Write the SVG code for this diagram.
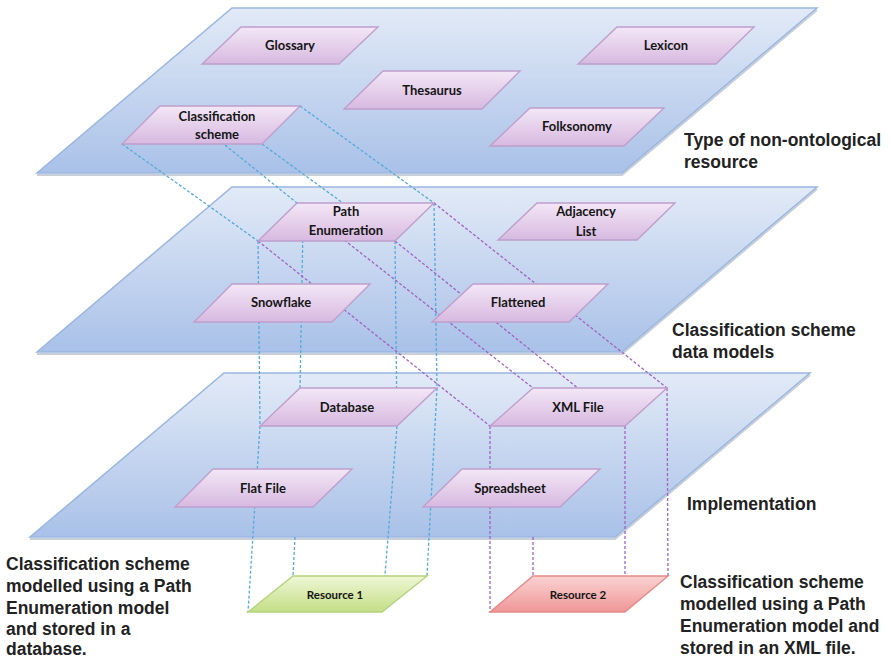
<svg xmlns="http://www.w3.org/2000/svg" width="894" height="661" viewBox="0 0 894 661">
<defs>
<linearGradient id="gPlane" x1="0" y1="0" x2="0" y2="1">
<stop offset="0" stop-color="#e2eaf7"/>
<stop offset="1" stop-color="#a9c1e8"/>
</linearGradient>
<linearGradient id="gNode" x1="0" y1="0" x2="0" y2="1">
<stop offset="0" stop-color="#f3e7f6"/>
<stop offset="1" stop-color="#d7b9e0"/>
</linearGradient>
<linearGradient id="gGreen" x1="0" y1="0" x2="0" y2="1">
<stop offset="0" stop-color="#eef7d6"/>
<stop offset="1" stop-color="#c3de86"/>
</linearGradient>
<linearGradient id="gRed" x1="0" y1="0" x2="0" y2="1">
<stop offset="0" stop-color="#fad3d2"/>
<stop offset="1" stop-color="#ee9796"/>
</linearGradient>
</defs>
<style>
.plane{fill:url(#gPlane);stroke:#9ab6df;stroke-width:1.5}
.pshadow{fill:none;stroke:#c9cfd8;stroke-width:2}
.node{fill:url(#gNode);stroke:#bf9fcc;stroke-width:1.4}
.r1{fill:url(#gGreen);stroke:#b5d27d;stroke-width:1.4}
.r2{fill:url(#gRed);stroke:#e58a89;stroke-width:1.4}
.b{fill:none;stroke:#55a9dd;stroke-width:1.3;stroke-dasharray:3 2}
.p{fill:none;stroke:#a262c4;stroke-width:1.3;stroke-dasharray:3 2}
.nt{font-family:Lato,"Liberation Sans",sans-serif;font-weight:bold;font-size:13px;fill:#151515;text-anchor:middle}
.lt{font-family:"Liberation Sans",Arial,sans-serif;font-weight:bold;font-size:17.5px;fill:#222}
</style>
<g id="planes">
<polyline class="pshadow" points="37,175 622,175 817,10"/>
<polygon id="plane-resource-type" class="plane" points="232,8 817,8 622,173 37,173"/>
<polyline class="pshadow" points="37,354 622,354 817,189"/>
<polygon id="plane-data-models" class="plane" points="232,187 817,187 622,352 37,352"/>
<polyline class="pshadow" points="30,539 615,539 810,375"/>
<polygon id="plane-implementation" class="plane" points="224,373 810,373 615,537 30,537"/>
</g>
<g id="connectors">
<line class="b" x1="122" y1="144" x2="258" y2="241"/>
<line class="b" x1="225" y1="145" x2="297" y2="203"/>
<line class="b" x1="262" y1="144" x2="395" y2="241"/>
<line class="b" x1="300" y1="106" x2="434" y2="203"/>
<polyline class="b" points="258,241 260,426 248,612"/>
<line class="b" x1="303" y1="225" x2="300" y2="388"/>
<line class="b" x1="295" y1="537" x2="293" y2="576"/>
<polyline class="b" points="395,241 397,426 382,612"/>
<polyline class="b" points="434,203 437,388 427,576"/>
<line class="p" x1="258" y1="241" x2="490" y2="426"/>
<line class="p" x1="297" y1="203" x2="533" y2="388"/>
<line class="p" x1="395" y1="241" x2="625" y2="426"/>
<line class="p" x1="434" y1="203" x2="667" y2="388"/>
<line class="p" x1="490" y1="426" x2="490" y2="612"/>
<line class="p" x1="533" y1="537" x2="533" y2="576"/>
<line class="p" x1="625" y1="426" x2="625" y2="612"/>
<line class="p" x1="667" y1="388" x2="668" y2="576"/>
</g>
<g id="glossary"><polygon class="node" points="241,27 378,27 339,64 202,64"/><text class="nt" x="290" y="50">Glossary</text></g>
<g id="thesaurus"><polygon class="node" points="383,71 520,71 482,109 344,109"/><text class="nt" x="432" y="95">Thesaurus</text></g>
<g id="lexicon"><polygon class="node" points="617,27 754,27 716,64 578,64"/><text class="nt" x="666" y="50">Lexicon</text></g>
<g id="folksonomy"><polygon class="node" points="530,108 664,108 624,146 490,146"/><text class="nt" x="577" y="131">Folksonomy</text></g>
<g id="classification-scheme"><polygon class="node" points="160,106 300,106 262,144 122,144"/><text class="nt" x="217" y="121">Classification</text><text class="nt" x="217" y="139">scheme</text></g>
<g id="path-enumeration"><polygon class="node" points="297,203 434,203 395,241 258,241"/><text class="nt" x="346" y="216">Path</text><text class="nt" x="346" y="235">Enumeration</text></g>
<g id="adjacency-list"><polygon class="node" points="537,203 675,203 637,240 498,240"/><text class="nt" x="586" y="216">Adjacency</text><text class="nt" x="586" y="236">List</text></g>
<g id="snowflake"><polygon class="node" points="232,284 370,284 332,322 194,322"/><text class="nt" x="281" y="307">Snowflake</text></g>
<g id="flattened"><polygon class="node" points="473,284 608,284 569,322 432,322"/><text class="nt" x="518" y="307">Flattened</text></g>
<g id="database"><polygon class="node" points="300,388 437,388 397,426 260,426"/><text class="nt" x="347" y="412">Database</text></g>
<g id="xml-file"><polygon class="node" points="533,388 667,388 625,426 490,426"/><text class="nt" x="578" y="412">XML File</text></g>
<g id="flat-file"><polygon class="node" points="213,469 352,469 313,507 175,507"/><text class="nt" x="263" y="493">Flat File</text></g>
<g id="spreadsheet"><polygon class="node" points="462,469 600,469 560,507 423,507"/><text class="nt" x="510" y="493">Spreadsheet</text></g>
<g id="resource-1"><polygon class="r1" points="293,576 427,576 382,612 248,612"/><text class="nt" x="335" y="599" style="font-size:11.5px">Resource 1</text></g>
<g id="resource-2"><polygon class="r2" points="533,576 668,576 625,612 490,612"/><text class="nt" x="578" y="599" style="font-size:11.5px">Resource 2</text></g>
<g id="labels">
<text class="lt" x="684" y="146">Type of non-ontological</text>
<text class="lt" x="684" y="168">resource</text>
<text class="lt" x="672" y="336">Classification scheme</text>
<text class="lt" x="672" y="358">data models</text>
<text class="lt" x="687" y="510">Implementation</text>
<text class="lt" x="6" y="570">Classification scheme</text>
<text class="lt" x="6" y="592">modelled using a Path</text>
<text class="lt" x="6" y="614">Enumeration model</text>
<text class="lt" x="6" y="635">and stored in a</text>
<text class="lt" x="6" y="655">database.</text>
<text class="lt" x="680" y="588">Classification scheme</text>
<text class="lt" x="680" y="610">modelled using a Path</text>
<text class="lt" x="680" y="632">Enumeration model and</text>
<text class="lt" x="680" y="654">stored in an XML file.</text>
</g>
</svg>
